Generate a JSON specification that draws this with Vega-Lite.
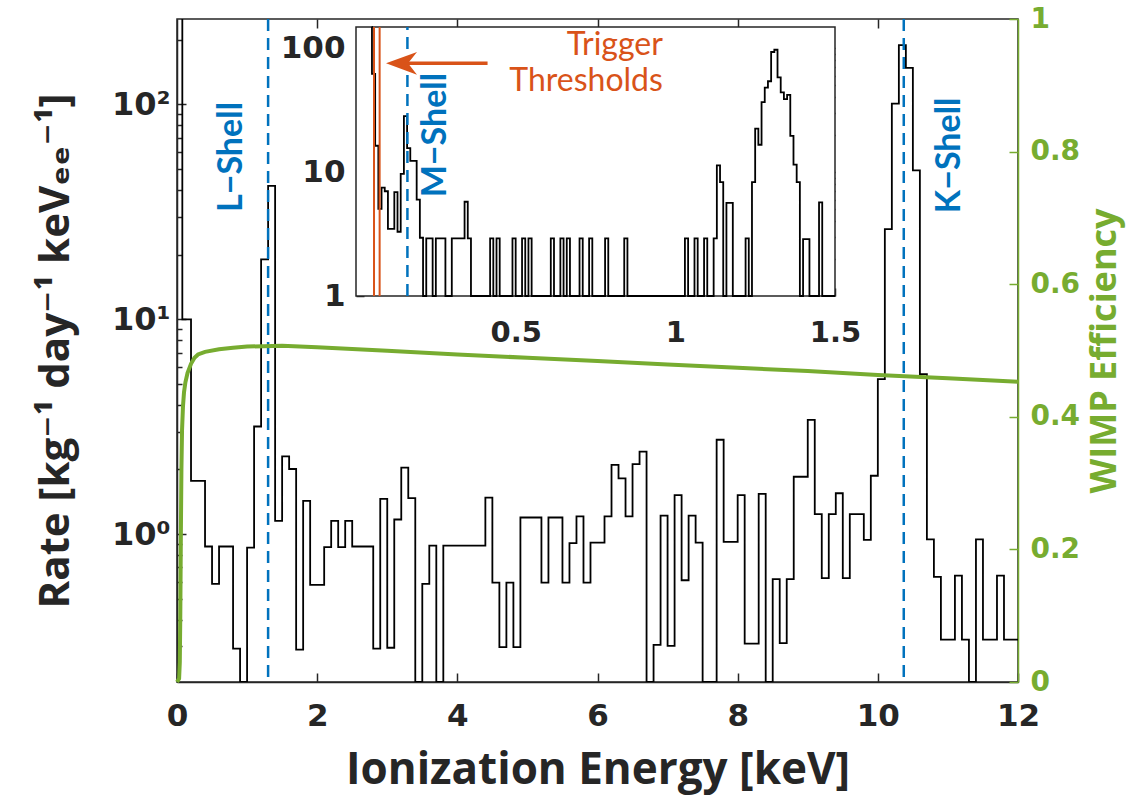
{
  "$schema": "https://vega.github.io/schema/vega-lite/v6.json",
  "width": 841,
  "height": 663,
  "autosize": {"type": "none"},
  "padding": {"left": 177, "top": 19, "right": 108, "bottom": 121},
  "background": "white",
  "config": {
    "view": {"stroke": "#262626", "strokeWidth": 1.5},
    "axis": {"grid": false, "labelFont": "DejaVu Sans", "labelFontWeight": "bold", "labelColor": "#262626", "titleFont": "Open Sans, DejaVu Sans", "titleFontWeight": "bold", "titleColor": "#262626", "domainColor": "#262626", "tickColor": "#262626", "domainWidth": 1.5, "tickWidth": 1.5, "labelFlush": false, "labelOverlap": false}
  },
  "datasets": {
    "main": [
      {"e":0.0755,"r":250},{"e":0.076,"r":10.0},{"e":0.2,"r":1.77},{"e":0.4,"r":0.876},{"e":0.5,"r":0.587},{"e":0.6,"r":0.876},{"e":0.8,"r":0.293},{"e":0.9,"r":0.205},{"e":1.0,"r":0.866},{"e":1.1,"r":3.17},{"e":1.2,"r":19.0},{"e":1.3,"r":41.8},{"e":1.4,"r":1.153},{"e":1.5,"r":2.30},{"e":1.6,"r":2.01},{"e":1.7,"r":0.290},{"e":1.8,"r":1.43},{"e":1.9,"r":0.581},{"e":2.1,"r":0.87},{"e":2.2,"r":1.153},{"e":2.3,"r":0.87},{"e":2.4,"r":1.153},{"e":2.5,"r":0.876},{"e":2.8,"r":0.293},{"e":2.9,"r":1.46},{"e":3.0,"r":0.296},{"e":3.1,"r":1.17},{"e":3.2,"r":2.04},{"e":3.3,"r":1.47},{"e":3.4,"r":0.205},{"e":3.5,"r":0.587},{"e":3.6,"r":0.885},{"e":3.7,"r":0.205},{"e":3.8,"r":0.885},{"e":4.4,"r":1.48},{"e":4.5,"r":0.595},{"e":4.6,"r":0.298},{"e":4.7,"r":0.595},{"e":4.8,"r":0.298},{"e":4.9,"r":1.195},{"e":5.2,"r":0.595},{"e":5.3,"r":1.195},{"e":5.5,"r":0.595},{"e":5.6,"r":0.908},{"e":5.7,"r":1.21},{"e":5.8,"r":0.595},{"e":5.9,"r":0.914},{"e":6.1,"r":1.21},{"e":6.2,"r":2.10},{"e":6.3,"r":1.82},{"e":6.4,"r":1.21},{"e":6.5,"r":2.12},{"e":6.6,"r":2.42},{"e":6.7,"r":0.205},{"e":6.8,"r":0.305},{"e":6.9,"r":1.22},{"e":7.0,"r":0.302},{"e":7.1,"r":1.52},{"e":7.2,"r":0.61},{"e":7.3,"r":1.22},{"e":7.4,"r":0.914},{"e":7.5,"r":0.205},{"e":7.7,"r":2.75},{"e":7.8,"r":0.92},{"e":8.0,"r":1.52},{"e":8.1,"r":0.309},{"e":8.3,"r":1.54},{"e":8.4,"r":0.205},{"e":8.5,"r":0.617},{"e":8.6,"r":0.311},{"e":8.7,"r":0.617},{"e":8.8,"r":1.85},{"e":9.0,"r":3.40},{"e":9.1,"r":1.24},{"e":9.2,"r":0.624},{"e":9.3,"r":1.24},{"e":9.4,"r":1.55},{"e":9.5,"r":0.624},{"e":9.6,"r":1.24},{"e":9.8,"r":0.94},{"e":9.9,"r":1.87},{"e":10.0,"r":5.27},{"e":10.1,"r":26.3},{"e":10.2,"r":101},{"e":10.3,"r":189},{"e":10.4,"r":148},{"e":10.5,"r":49.3},{"e":10.6,"r":5.56},{"e":10.7,"r":0.946},{"e":10.8,"r":0.632},{"e":10.9,"r":0.323},{"e":11.1,"r":0.641},{"e":11.2,"r":0.323},{"e":11.3,"r":0.205},{"e":11.4,"r":0.946},{"e":11.5,"r":0.323},{"e":11.7,"r":0.641},{"e":11.8,"r":0.323},{"e":12.0,"r":0.323}
    ],
    "shells": [
      {"e": 1.3, "t": "L\u2212Shell", "te": 0.785, "tr": 57},
      {"e": 10.37, "t": "K\u2212Shell", "te": 11.03, "tr": 58}
    ],
    "eff": [
      {"e":0.0,"w":0.0},{"e":0.03,"w":0.005},{"e":0.04,"w":0.03},{"e":0.047,"w":0.1},{"e":0.055,"w":0.22},{"e":0.063,"w":0.32},{"e":0.072,"w":0.38},{"e":0.085,"w":0.415},{"e":0.1,"w":0.437},{"e":0.12,"w":0.452},{"e":0.15,"w":0.466},{"e":0.2,"w":0.48},{"e":0.25,"w":0.489},{"e":0.3,"w":0.494},{"e":0.4,"w":0.498},{"e":0.6,"w":0.502},{"e":0.8,"w":0.504},{"e":1.0,"w":0.506},{"e":1.5,"w":0.507},{"e":2.0,"w":0.505},{"e":3.0,"w":0.4995},{"e":4.0,"w":0.494},{"e":5.0,"w":0.489},{"e":6.0,"w":0.484},{"e":7.0,"w":0.479},{"e":8.0,"w":0.474},{"e":9.0,"w":0.469},{"e":10.0,"w":0.463},{"e":11.0,"w":0.458},{"e":12.0,"w":0.453}
    ],
    "box": [{"x0": 0, "x1": 1.5, "y0": 1, "y1": 148}],
    "inset": [
      {"e":0.049,"r":148},{"e":0.05,"r":62},{"e":0.06,"r":16.3},{"e":0.07,"r":5.05},{"e":0.08,"r":7.5},{"e":0.09,"r":7.0},{"e":0.10,"r":3.48},{"e":0.12,"r":6.9},{"e":0.13,"r":3.3},{"e":0.14,"r":9.66},{"e":0.15,"r":28.3},{"e":0.16,"r":15.6},{"e":0.17,"r":12.3},{"e":0.19,"r":6.0},{"e":0.20,"r":2.95},{"e":0.21,"r":1},{"e":0.22,"r":2.92},{"e":0.24,"r":1},{"e":0.25,"r":2.92},{"e":0.28,"r":1},{"e":0.30,"r":2.92},{"e":0.34,"r":5.76},{"e":0.35,"r":2.92},{"e":0.36,"r":1},{"e":0.42,"r":2.92},{"e":0.43,"r":1},{"e":0.44,"r":2.92},{"e":0.45,"r":1},{"e":0.49,"r":2.92},{"e":0.50,"r":1},{"e":0.52,"r":2.92},{"e":0.53,"r":1},{"e":0.54,"r":2.92},{"e":0.55,"r":1},{"e":0.61,"r":2.92},{"e":0.62,"r":1},{"e":0.64,"r":2.92},{"e":0.65,"r":1},{"e":0.66,"r":2.92},{"e":0.67,"r":1},{"e":0.70,"r":2.92},{"e":0.71,"r":1},{"e":0.73,"r":2.92},{"e":0.74,"r":1},{"e":0.78,"r":2.92},{"e":0.79,"r":1},{"e":0.84,"r":2.92},{"e":0.85,"r":1},{"e":1.03,"r":2.92},{"e":1.04,"r":1},{"e":1.06,"r":2.92},{"e":1.07,"r":1},{"e":1.09,"r":2.92},{"e":1.10,"r":1},{"e":1.12,"r":2.92},{"e":1.13,"r":11.3},{"e":1.14,"r":8.3},{"e":1.15,"r":1},{"e":1.16,"r":5.65},{"e":1.18,"r":1},{"e":1.22,"r":2.92},{"e":1.23,"r":1},{"e":1.24,"r":8.3},{"e":1.25,"r":22.4},{"e":1.26,"r":16.6},{"e":1.27,"r":36.6},{"e":1.28,"r":48},{"e":1.29,"r":54},{"e":1.30,"r":93},{"e":1.31,"r":97},{"e":1.32,"r":58},{"e":1.33,"r":44},{"e":1.34,"r":38.7},{"e":1.35,"r":42},{"e":1.36,"r":19.6},{"e":1.37,"r":11.5},{"e":1.38,"r":8.3},{"e":1.39,"r":1},{"e":1.40,"r":2.88},{"e":1.42,"r":1},{"e":1.45,"r":5.7},{"e":1.46,"r":1},{"e":1.5,"r":1}
    ],
    "thresholds": [{"e": 0.0564, "lo": 1, "hi": 148}, {"e": 0.074, "lo": 1, "hi": 148}],
    "mshell": [{"e": 0.161, "lo": 1, "hi": 148, "te": 0.249, "tr": 19.9, "t": "M\u2212Shell"}],
    "arrow": [{"e": 0.16, "e2": 0.412, "r": 75.3, "he": 0.1425}],
    "trig": [{"e": 0.961, "r": 87.9, "t": "Trigger"}, {"e": 0.961, "r": 45.3, "t": "Thresholds"}]
  },
  "layer": [
    {
      "data": {"name": "main"},
      "mark": {"type": "line", "interpolate": "step-after", "color": "black", "strokeWidth": 1.8, "clip": true},
      "encoding": {
        "x": {"field": "e", "type": "quantitative", "scale": {"domain": [0, 12], "nice": false, "zero": false},
              "axis": {"orient": "bottom", "values": [0, 2, 4, 6, 8, 10, 12], "tickSize": -9, "labelPadding": 28, "labelFontSize": 31, "title": "Ionization Energy [keV]", "titleFontSize": 44, "titlePadding": 17}},
        "y": {"field": "r", "type": "quantitative", "scale": {"type": "log", "domain": [0.205, 250], "nice": false},
              "axis": {"orient": "left", "values": [1, 10, 100], "labelExpr": "datum.value >= 100 ? '10²' : datum.value >= 10 ? '10¹' : '10⁰'", "tickSize": -9, "labelPadding": 16, "labelFontSize": 32, "title": "Rate [kg\u207b\u00b9 day\u207b\u00b9 keV\u2091\u2091\u207b\u00b9]", "titleFontSize": 42, "titlePadding": 34}}
      }
    },
    {
      "data": {"name": "shells"},
      "mark": {"type": "rule", "color": "#0072BD", "strokeWidth": 2.5, "strokeDash": [12, 7]},
      "encoding": {"x": {"field": "e", "type": "quantitative", "scale": {"domain": [0, 12], "nice": false, "zero": false},
        "axis": {"orient": "top", "values": [2, 4, 6, 8, 10], "labels": false, "domain": false, "tickSize": -9, "title": null}}}
    },
    {
      "data": {"name": "shells"},
      "mark": {"type": "text", "color": "#0072BD", "font": "Lato", "fontWeight": "bold", "fontSize": 34, "angle": 270, "align": "center", "baseline": "middle"},
      "encoding": {
        "x": {"field": "te", "type": "quantitative", "scale": {"domain": [0, 12], "nice": false, "zero": false}, "axis": null},
        "y": {"field": "tr", "type": "quantitative", "scale": {"type": "log", "domain": [0.205, 250], "nice": false},
              "axis": {"orient": "left", "values": [0.3, 0.4, 0.5, 0.6, 0.7, 0.8, 0.9, 2, 3, 4, 5, 6, 7, 8, 9, 20, 30, 40, 50, 60, 70, 80, 90, 200], "labels": false, "domain": false, "tickSize": -5, "title": null}},
        "text": {"field": "t"}
      }
    },
    {
      "data": {"name": "eff"},
      "mark": {"type": "line", "color": "#77AC30", "strokeWidth": 4},
      "encoding": {
        "x": {"field": "e", "type": "quantitative", "scale": {"domain": [0, 12], "nice": false, "zero": false}, "axis": null},
        "y": {"field": "w", "type": "quantitative", "scale": {"domain": [0, 1], "nice": false},
              "axis": {"orient": "right", "values": [0, 0.2, 0.4, 0.6, 0.8, 1], "format": "~g", "labelColor": "#77AC30", "tickColor": "#77AC30", "domainColor": "#77AC30", "tickSize": -9, "labelPadding": 21, "labelFontSize": 28, "title": "WIMP Efficiency", "titleColor": "#77AC30", "titleFontSize": 36, "titleAngle": 270, "titleBaseline": "top", "titlePadding": 8}}
      }
    },
    {
      "data": {"name": "box"},
      "mark": {"type": "rect", "fill": "white", "stroke": "#262626", "strokeWidth": 1.5},
      "encoding": {
        "x": {"field": "x0", "type": "quantitative", "scale": {"domain": [0, 1.5], "range": [179, 658], "nice": false, "zero": false},
              "axis": {"orient": "bottom", "offset": -386, "values": [0.5, 1, 1.5], "format": "~g", "domain": false, "tickSize": -8, "labelPadding": 30, "labelFontSize": 29, "title": null}},
        "x2": {"field": "x1"},
        "y": {"field": "y0", "type": "quantitative", "scale": {"type": "log", "domain": [1, 148], "range": [277, 8], "nice": false},
              "axis": {"orient": "left", "offset": -179, "values": [1, 10, 100], "format": "~g", "domain": false, "tickSize": -8, "labelPadding": 19, "labelFontSize": 31, "title": null}},
        "y2": {"field": "y1"}
      }
    },
    {
      "data": {"name": "inset"},
      "mark": {"type": "line", "interpolate": "step-after", "color": "black", "strokeWidth": 1.8},
      "encoding": {
        "x": {"field": "e", "type": "quantitative", "scale": {"domain": [0, 1.5], "range": [179, 658], "nice": false, "zero": false},
              "axis": {"orient": "top", "offset": -8, "values": [0.5, 1], "labels": false, "domain": false, "tickSize": -8, "title": null}},
        "y": {"field": "r", "type": "quantitative", "scale": {"type": "log", "domain": [1, 148], "range": [277, 8], "nice": false},
              "axis": {"orient": "left", "offset": -179, "values": [2, 3, 4, 5, 6, 7, 8, 9, 20, 30, 40, 50, 60, 70, 80, 90], "labels": false, "domain": false, "tickSize": -4, "title": null}}
      }
    },
    {
      "data": {"name": "thresholds"},
      "mark": {"type": "rule", "color": "#D95319", "strokeWidth": 2},
      "encoding": {
        "x": {"field": "e", "type": "quantitative", "scale": {"domain": [0, 1.5], "range": [179, 658], "nice": false, "zero": false}, "axis": null},
        "y": {"field": "lo", "type": "quantitative", "scale": {"type": "log", "domain": [1, 148], "range": [277, 8], "nice": false},
              "axis": {"orient": "right", "offset": -183, "values": [10, 100], "labels": false, "domain": false, "tickSize": -8, "title": null}},
        "y2": {"field": "hi"}
      }
    },
    {
      "data": {"name": "mshell"},
      "mark": {"type": "rule", "color": "#0072BD", "strokeWidth": 2.5, "strokeDash": [12, 7]},
      "encoding": {
        "x": {"field": "e", "type": "quantitative", "scale": {"domain": [0, 1.5], "range": [179, 658], "nice": false, "zero": false}, "axis": null},
        "y": {"field": "lo", "type": "quantitative", "scale": {"type": "log", "domain": [1, 148], "range": [277, 8], "nice": false},
              "axis": {"orient": "right", "offset": -183, "values": [2, 3, 4, 5, 6, 7, 8, 9, 20, 30, 40, 50, 60, 70, 80, 90], "labels": false, "domain": false, "tickSize": -4, "title": null}},
        "y2": {"field": "hi"}
      }
    },
    {
      "data": {"name": "mshell"},
      "mark": {"type": "text", "color": "#0072BD", "font": "Lato", "fontWeight": "bold", "fontSize": 34, "angle": 270, "align": "center", "baseline": "middle"},
      "encoding": {
        "x": {"field": "te", "type": "quantitative", "scale": {"domain": [0, 1.5], "range": [179, 658], "nice": false, "zero": false}, "axis": null},
        "y": {"field": "tr", "type": "quantitative", "scale": {"type": "log", "domain": [1, 148], "range": [277, 8], "nice": false}, "axis": null},
        "text": {"field": "t"}
      }
    },
    {
      "data": {"name": "arrow"},
      "mark": {"type": "rule", "color": "#D95319", "strokeWidth": 3.5},
      "encoding": {
        "x": {"field": "e", "type": "quantitative", "scale": {"domain": [0, 1.5], "range": [179, 658], "nice": false, "zero": false}, "axis": null},
        "x2": {"field": "e2"},
        "y": {"field": "r", "type": "quantitative", "scale": {"type": "log", "domain": [1, 148], "range": [277, 8], "nice": false}, "axis": null}
      }
    },
    {
      "data": {"name": "arrow"},
      "mark": {"type": "point", "shape": "M -1 0 L 1 -0.74 L 0.42 0 L 1 0.74 Z", "filled": true, "size": 961, "color": "#D95319", "opacity": 1, "strokeWidth": 0},
      "encoding": {
        "x": {"field": "he", "type": "quantitative", "scale": {"domain": [0, 1.5], "range": [179, 658], "nice": false, "zero": false}, "axis": null},
        "y": {"field": "r", "type": "quantitative", "scale": {"type": "log", "domain": [1, 148], "range": [277, 8], "nice": false}, "axis": null}
      }
    },
    {
      "data": {"name": "trig"},
      "mark": {"type": "text", "color": "#D95319", "font": "Lato", "fontSize": 32, "align": "right", "baseline": "alphabetic"},
      "encoding": {
        "x": {"field": "e", "type": "quantitative", "scale": {"domain": [0, 1.5], "range": [179, 658], "nice": false, "zero": false}, "axis": null},
        "y": {"field": "r", "type": "quantitative", "scale": {"type": "log", "domain": [1, 148], "range": [277, 8], "nice": false}, "axis": null},
        "text": {"field": "t"}
      }
    }
  ],
  "resolve": {"scale": {"x": "independent", "y": "independent"}, "axis": {"x": "independent", "y": "independent"}}
}
